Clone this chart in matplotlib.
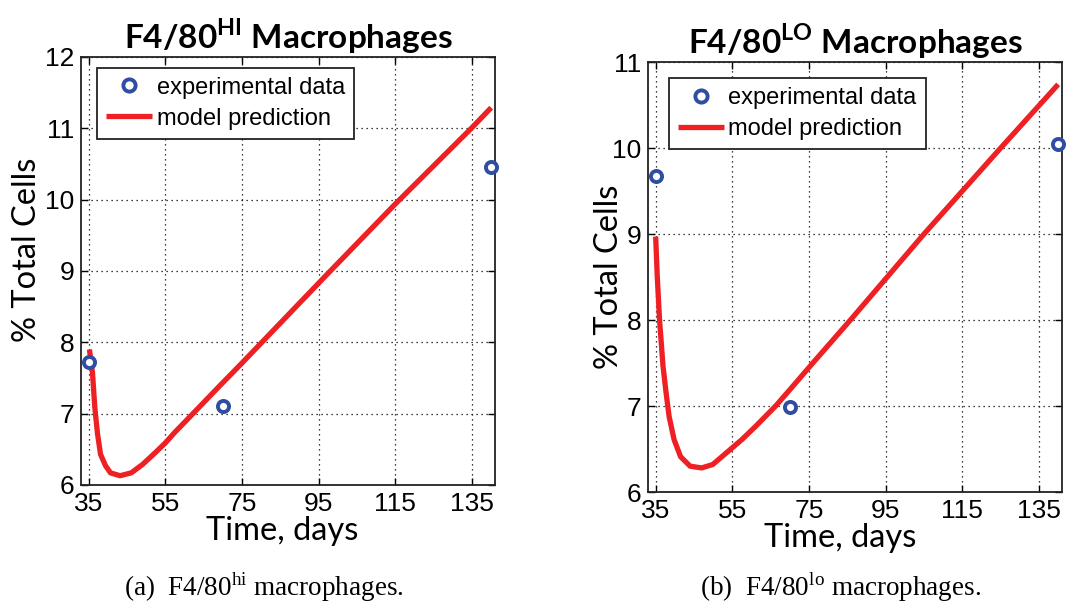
import matplotlib
matplotlib.use("Agg")
import matplotlib.pyplot as plt

# ---------------- data ----------------
x_exp = [35, 70, 140]
y_hi_exp = [7.73, 7.11, 10.46]
y_lo_exp = [9.67, 6.99, 10.05]

t_hi = [35.2, 36.0, 36.6, 37.3, 38.1, 39.4, 40.7, 43.2, 46.1, 49.1, 52.5,
        55.0, 57.5, 61.3, 69.0, 75.0, 80.0, 97.5, 115.0, 135.0, 140.0]
y_hi = [7.90, 7.57, 7.09, 6.72, 6.43, 6.27, 6.17, 6.13, 6.17, 6.29, 6.46,
        6.59, 6.74, 6.95, 7.38, 7.71, 7.99, 8.97, 9.94, 11.01, 11.29]

t_lo = [35.0, 35.4, 36.0, 36.9, 37.7, 38.5, 39.8, 41.5, 44.0, 47.0, 49.9,
        53.3, 57.5, 61.0, 66.3, 70.4, 76.0, 86.0, 105.0, 125.0, 140.0]
y_lo = [8.97, 8.52, 8.01, 7.47, 7.16, 6.88, 6.61, 6.41, 6.30, 6.28, 6.32,
        6.45, 6.61, 6.76, 7.00, 7.21, 7.50, 8.01, 9.00, 10.00, 10.74]

xticks = [35, 55, 75, 95, 115, 135]
yticks_hi = [6, 7, 8, 9, 10, 11, 12]
yticks_lo = [6, 7, 8, 9, 10, 11]

titles = [r"F4/80$^{\mathbf{HI}}$ Macrophages", r"F4/80$^{\mathbf{LO}}$ Macrophages"]
captions = [r"(a)  F4/80$^{\mathsf{hi}}$ macrophages.", r"(b)  F4/80$^{\mathsf{lo}}$ macrophages."]
legend_labels = ["experimental data", "model prediction"]
xlabel = "Time, days"
ylabel = "% Total Cells"

# ---------------- style ----------------
plt.rcParams["mathtext.fontset"] = "custom"
plt.rcParams["mathtext.rm"] = "Lato"
plt.rcParams["mathtext.bf"] = "Lato:bold"
plt.rcParams["mathtext.sf"] = "Liberation Serif"

RED = "#ee2024"
BLUE = "#2f4ea3"

fig = plt.figure(figsize=(10.83, 6.02), dpi=100)
fig.patch.set_facecolor("white")

ax_pos = [
    [81 / 1083, 1 - 485 / 602, 414 / 1083, 428 / 602],
    [648 / 1083, 1 - 492 / 602, 414 / 1083, 430 / 602],
]

panels = [
    (t_hi, y_hi, y_hi_exp, yticks_hi, (6, 12)),
    (t_lo, y_lo, y_lo_exp, yticks_lo, (6, 11)),
]

label_coords = [
    dict(xl=(0.486, -0.072), yl=(-0.094, 0.549), cap=(264, 587),
         leg=(0.039, 0.975)),
    dict(xl=(0.464, -0.072), yl=(-0.058, 0.50), cap=(841, 587),
         leg=(0.05, 0.962)),
]

for i, (t, y, yexp, yt, ylim) in enumerate(panels):
    ax = fig.add_axes(ax_pos[i])
    ax.plot(x_exp, yexp, linestyle="none", marker="o", markersize=8,
            markerfacecolor="white", markeredgecolor=BLUE, markeredgewidth=2.8,
            clip_on=False, zorder=4, label=legend_labels[0])
    ax.plot(t, y, color=RED, linewidth=3.8, solid_capstyle="butt",
            solid_joinstyle="round", zorder=3, label=legend_labels[1])
    ax.set_xlim(33, 141)
    ax.set_ylim(*ylim)
    ax.set_xticks(xticks)
    ax.set_yticks(yt)
    ax.tick_params(direction="in", length=5, width=1, top=True, right=True,
                   labelsize=19, pad=5, colors="black")
    for lab in ax.get_xticklabels() + ax.get_yticklabels():
        lab.set_fontfamily("Liberation Sans")
    ax.grid(True, color="black", linestyle=(0, (1, 3)), linewidth=0.9)
    for sp in ax.spines.values():
        sp.set_linewidth(1.3)
        sp.set_color("#222222")
    ax.set_title(titles[i], fontsize=24, fontweight="bold", family="Lato", pad=6)
    ax.set_xlabel(xlabel, fontsize=23.5, family="Lato")
    ax.set_ylabel(ylabel, fontsize=23.5, family="Lato")
    ax.xaxis.set_label_coords(*label_coords[i]["xl"])
    ax.yaxis.set_label_coords(*label_coords[i]["yl"])
    leg = ax.legend(loc="upper left", bbox_to_anchor=label_coords[i]["leg"],
                    borderaxespad=0, prop={"family": "Liberation Sans", "size": 17},
                    frameon=True, fancybox=False, framealpha=1, edgecolor="#222222",
                    handlelength=1.95, handletextpad=0.2, borderpad=0.38,
                    labelspacing=0.38, numpoints=1, markerscale=1.1)
    leg.get_frame().set_linewidth(1.3)
    cx, cy = label_coords[i]["cap"]
    fig.text(cx / 1083, 1 - cy / 602, captions[i], ha="center", va="center",
             fontsize=19.5, family="Liberation Serif")

fig.savefig("out.png", dpi=100, facecolor="white")
